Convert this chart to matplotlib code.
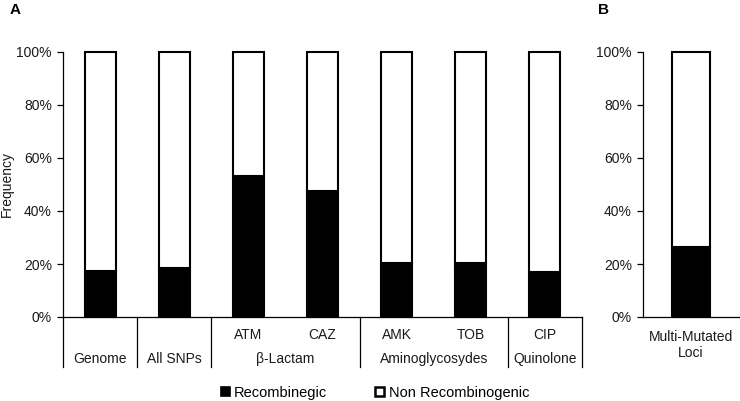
import matplotlib
matplotlib.use("Agg")
import matplotlib.pyplot as plt
from matplotlib.transforms import blended_transform_factory
from matplotlib.patches import Patch

plt.rcParams['font.family'] = ['Liberation Sans', 'DejaVu Sans']

categories = ["Genome", "All SNPs", "ATM", "CAZ", "AMK", "TOB", "CIP"]
recomb = [0.174, 0.185, 0.532, 0.475, 0.204, 0.204, 0.170]
sub_labels = ["", "", "ATM", "CAZ", "AMK", "TOB", "CIP"]
groups = [("Genome", 0, 0), ("All SNPs", 1, 1), ("β-Lactam", 2, 3),
          ("Aminoglycosydes", 4, 5), ("Quinolone", 6, 6)]
b_category = "Multi-Mutated\nLoci"
b_recomb = [0.265]
yticks = [0, 0.2, 0.4, 0.6, 0.8, 1.0]
ytick_labels = ["0%", "20%", "40%", "60%", "80%", "100%"]

W, H = 740, 401
fig = plt.figure(figsize=(W / 100, H / 100), dpi=100)

def px_axes(left, right, top, bottom):
    return fig.add_axes([left / W, (H - bottom) / H, (right - left) / W, (bottom - top) / H])

axA = px_axes(63, 582, 52, 317)
axB = px_axes(643, 739, 52, 317)

lw = 1.5
txtc = '#1a1a1a'
def style(ax):
    ax.set_ylim(0, 1)
    ax.set_yticks(yticks)
    ax.set_yticklabels(ytick_labels, fontsize=10, color=txtc)
    ax.tick_params(axis='y', direction='out', length=4, width=0.9, pad=4)
    ax.tick_params(axis='x', length=0)
    ax.set_xticks([])
    for s in ['top', 'right']:
        ax.spines[s].set_visible(False)
    for s in ['left', 'bottom']:
        ax.spines[s].set_linewidth(0.9)

x = list(range(len(categories)))
nonrec = [1 - r for r in recomb]
axA.bar(x, recomb, width=0.42, color='black', edgecolor='black', linewidth=lw, clip_on=False)
axA.bar(x, nonrec, bottom=recomb, width=0.42, color='white', edgecolor='black', linewidth=lw, clip_on=False)
axA.set_xlim(-0.5, len(categories) - 0.5)
style(axA)
axA.set_ylabel("Frequency", fontsize=10, color=txtc)
axA.yaxis.set_label_coords((14 - 63) / 519, 0.5)

trA = blended_transform_factory(axA.transData, axA.transAxes)
ph = 265.0
for d in [-0.5, 0.5, 1.5, 3.5, 5.5, 6.5]:
    axA.plot([d, d], [0, -50 / ph], transform=trA, color='black', lw=0.9, clip_on=False)
for i, lab in enumerate(sub_labels):
    if lab:
        axA.text(i, -18 / ph, lab, transform=trA, ha='center', va='center', fontsize=10, color=txtc)
for name, a, b in groups:
    axA.text((a + b) / 2, -42 / ph, name, transform=trA, ha='center', va='center', fontsize=10, color=txtc)

axB.bar([0], b_recomb, width=0.4, color='black', edgecolor='black', linewidth=lw, clip_on=False)
axB.bar([0], [1 - b_recomb[0]], bottom=b_recomb, width=0.4, color='white', edgecolor='black', linewidth=lw, clip_on=False)
axB.set_xlim(-0.5, 0.5)
style(axB)
trB = blended_transform_factory(axB.transData, axB.transAxes)
axB.text(0, -28 / ph, b_category, transform=trB, ha='center', va='center', fontsize=10,
         color=txtc, linespacing=1.2)

fig.text(10 / W, 1 - 10 / H, "A", fontsize=11, fontweight='bold', va='center', ha='left')
fig.text(598 / W, 1 - 10 / H, "B", fontsize=11, fontweight='bold', va='center', ha='left')

handles = [Patch(facecolor='black', edgecolor='black', linewidth=1.2, label='Recombinegic'),
           Patch(facecolor='white', edgecolor='black', linewidth=1.8, label='Non Recombinogenic')]
fig.legend(handles=handles, loc='center', bbox_to_anchor=(375 / W, 1 - 393 / H), ncol=2,
           frameon=False, fontsize=10.5, handlelength=0.6, handleheight=0.6,
           handletextpad=0.3, columnspacing=3.3, borderaxespad=0)

fig.savefig("out.png", dpi=100)
